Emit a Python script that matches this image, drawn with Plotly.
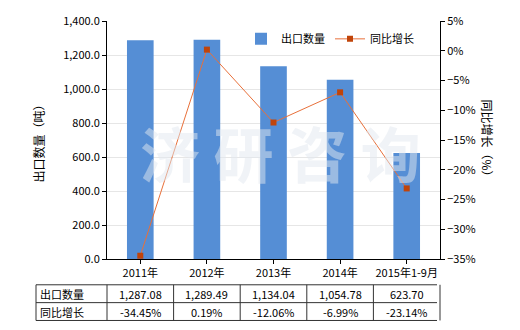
import plotly.graph_objects as go

categories = ["2011年", "2012年", "2013年", "2014年", "2015年1-9月"]
export_qty = [1287.08, 1289.49, 1134.04, 1054.78, 623.70]
yoy_growth = [-34.45, 0.19, -12.06, -6.99, -23.14]
series_names = ["出口数量", "同比增长"]

FONT = "Noto Sans CJK SC, Microsoft YaHei, sans-serif"
W, H = 520, 330
L, R, T, B = 107, 80, 19, 71
pw = W - L - R
ph = H - T - B

fig = go.Figure()
fig.add_trace(go.Bar(x=categories, y=export_qty, name=series_names[0],
                     marker=dict(color="#558ED5", line=dict(width=0)), width=0.4))
fig.add_trace(go.Scatter(x=categories, y=yoy_growth, name=series_names[1], yaxis="y2",
                         mode="lines+markers",
                         line=dict(color="#E8703A", width=1),
                         marker=dict(symbol="square", size=6, color="#C0440A")))

def px(x):
    return (x - L) / pw

def py(y):
    return (H - B - y) / ph

fig.update_layout(
    width=W, height=H,
    margin=dict(l=L, r=R, t=T, b=B),
    paper_bgcolor="white", plot_bgcolor="white",
    font=dict(family=FONT, size=11, color="#000"),
    showlegend=True,
    legend=dict(orientation="h", x=px(241), y=py(37),
                xanchor="left", yanchor="middle", bgcolor="rgba(0,0,0,0)",
                font=dict(size=11), tracegroupgap=0),
    xaxis=dict(showline=True, linecolor="#000", linewidth=1, ticks="outside",
               ticklen=4, tickcolor="#000", tickfont=dict(size=11), showgrid=False),
    yaxis=dict(range=[0, 1400], dtick=200, tickformat=",.1f", showline=True,
               linecolor="#000", linewidth=1, ticks="outside", ticklen=4,
               tickcolor="#000", showgrid=True, gridcolor="#E6E6E6",
               zeroline=False, tickfont=dict(size=11)),
    yaxis2=dict(range=[-35, 5], dtick=5, ticksuffix="%", overlaying="y", side="right",
                showline=True, linecolor="#000", linewidth=1, ticks="outside", ticklen=4,
                tickcolor="#000", showgrid=False, zeroline=False,
                tickfont=dict(size=11)),
)

# axis titles
fig.add_annotation(text="出口数量（吨）", xref="paper", yref="paper", x=px(28), y=py(140),
                   textangle=-90, showarrow=False, font=dict(size=12))
fig.add_annotation(text="同比增长（%）", xref="paper", yref="paper", x=px(498), y=py(140),
                   textangle=90, showarrow=False, font=dict(size=12))

# watermark
fig.add_annotation(text="<b>济 研 咨 询</b>", xref="paper", yref="paper", x=0.52, y=0.45,
                   showarrow=False, font=dict(size=60, color="rgba(225,232,240,0.5)", family=FONT))

# data table below the chart
tx0, tx1 = 36, 437
col_edges = [36] + [L + i * pw / 5 for i in range(6)]
row_edges = [285, 303, 321]

for y in row_edges:
    fig.add_shape(type="line", xref="paper", yref="paper", x0=px(tx0), x1=px(tx1),
                  y0=py(y), y1=py(y), line=dict(color="#333", width=1))
for x in col_edges:
    fig.add_shape(type="line", xref="paper", yref="paper", x0=px(x), x1=px(x),
                  y0=py(row_edges[0]), y1=py(row_edges[-1]), line=dict(color="#333", width=1))

rows = [
    (series_names[0], [f"{v:,.2f}" for v in export_qty]),
    (series_names[1], [f"{v:.2f}%" for v in yoy_growth]),
]
for r, (label, vals) in enumerate(rows):
    yc = (row_edges[r] + row_edges[r + 1]) / 2
    fig.add_annotation(text=label, xref="paper", yref="paper", x=px(38), y=py(yc),
                       xanchor="left", yanchor="middle", showarrow=False, font=dict(size=11))
    for i, v in enumerate(vals):
        xc = (col_edges[i + 1] + col_edges[i + 2]) / 2
        fig.add_annotation(text=v, xref="paper", yref="paper", x=px(xc), y=py(yc),
                           xanchor="center", yanchor="middle", showarrow=False, font=dict(size=11))

fig.write_html("out.html")
